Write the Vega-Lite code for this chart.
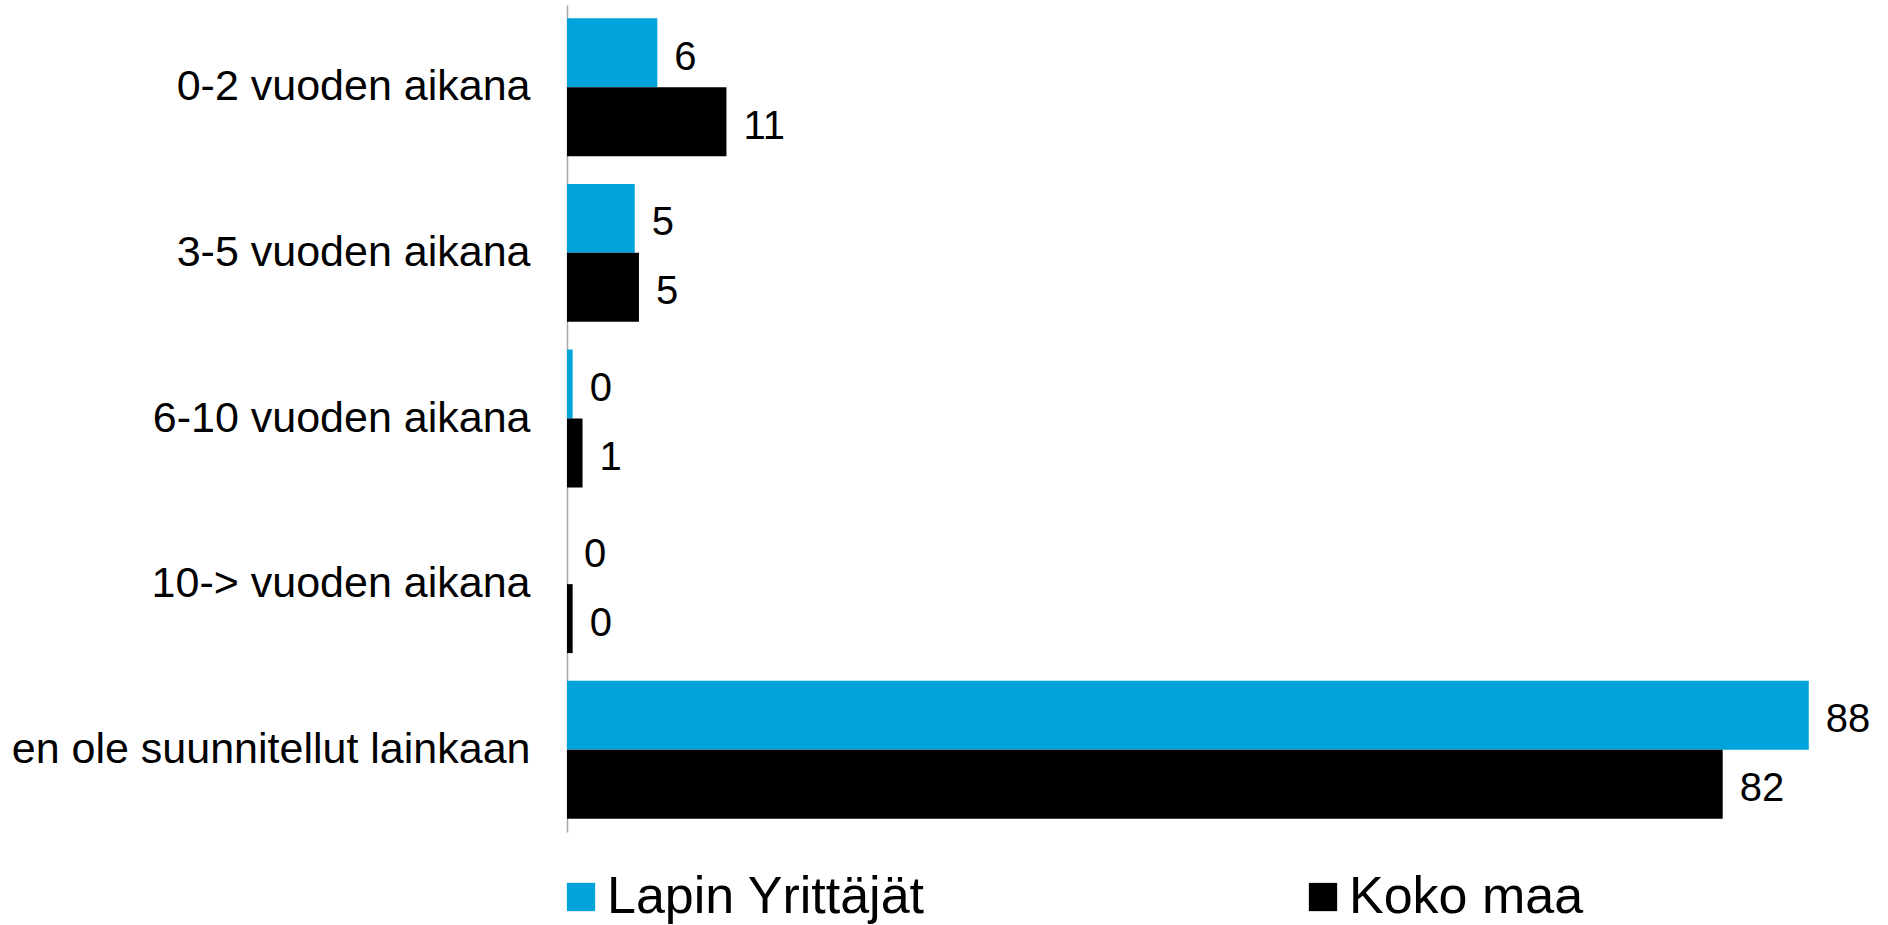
{
  "$schema": "https://vega.github.io/schema/vega-lite/v6.json",
  "autosize": "none",
  "width": 1270,
  "height": 827,
  "padding": {"left": 567, "top": 5, "right": 51, "bottom": 93},
  "background": "white",
  "config": {"view": {"stroke": null}, "font": "Liberation Sans"},
  "data": {"values": [
    {"cat": "0-2 vuoden aikana", "series": "Lapin Yrittäjät", "value": 6.4},
    {"cat": "0-2 vuoden aikana", "series": "Koko maa", "value": 11.3},
    {"cat": "3-5 vuoden aikana", "series": "Lapin Yrittäjät", "value": 4.8},
    {"cat": "3-5 vuoden aikana", "series": "Koko maa", "value": 5.1},
    {"cat": "6-10 vuoden aikana", "series": "Lapin Yrittäjät", "value": 0.4},
    {"cat": "6-10 vuoden aikana", "series": "Koko maa", "value": 1.1},
    {"cat": "10-> vuoden aikana", "series": "Lapin Yrittäjät", "value": 0},
    {"cat": "10-> vuoden aikana", "series": "Koko maa", "value": 0.4},
    {"cat": "en ole suunnitellut lainkaan", "series": "Lapin Yrittäjät", "value": 88.0},
    {"cat": "en ole suunnitellut lainkaan", "series": "Koko maa", "value": 81.9}
  ]},
  "encoding": {
    "y": {
      "field": "cat", "type": "nominal",
      "sort": ["0-2 vuoden aikana", "3-5 vuoden aikana", "6-10 vuoden aikana", "10-> vuoden aikana", "en ole suunnitellut lainkaan"],
      "scale": {"paddingInner": 0.167, "paddingOuter": 0.08},
      "axis": {
        "title": null, "ticks": false, "labelFontSize": 43, "labelColor": "#000000",
        "labelPadding": 37, "domainColor": "#A6A6A6", "domainWidth": 1.5, "labelLimit": 0
      }
    },
    "yOffset": {"field": "series", "type": "nominal", "sort": ["Lapin Yrittäjät", "Koko maa"], "scale": {"paddingInner": 0}},
    "x": {"field": "value", "type": "quantitative", "scale": {"domain": [0, 90], "nice": false}, "axis": null}
  },
  "layer": [
    {
      "mark": {"type": "bar"},
      "encoding": {
        "color": {
          "field": "series", "type": "nominal",
          "scale": {"domain": ["Lapin Yrittäjät", "Koko maa"], "range": ["#00A3DA", "#000000"]},
          "legend": {
            "title": null, "orient": "none", "direction": "horizontal", "columns": 2,
            "legendX": -12, "legendY": 866, "symbolType": "square", "symbolSize": 800,
            "symbolStrokeWidth": 0, "labelFontSize": 52, "labelColor": "#000000",
            "labelOffset": 0, "columnPadding": 372, "labelLimit": 0
          }
        }
      }
    },
    {
      "mark": {"type": "text", "align": "left", "baseline": "middle", "dx": 17, "dy": 5, "fontSize": 40, "color": "#000000"},
      "encoding": {"text": {"field": "value", "type": "quantitative", "format": ".0f"}}
    }
  ]
}
